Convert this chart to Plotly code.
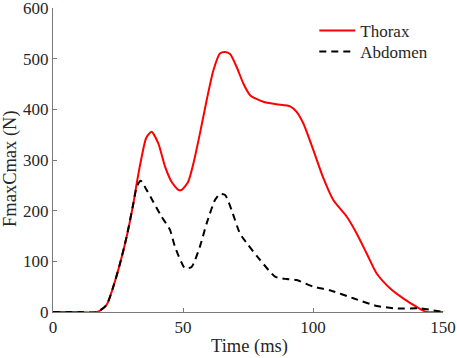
import plotly.graph_objects as go

thorax_t = [0, 10, 17, 20.6, 23.2, 25.8, 28.3, 30.9, 32.2, 34.1, 35.8, 37.9, 40.5, 43.1, 45.6,
            48.2, 49.5, 52, 54, 56.5, 59.1, 61.7, 64.2, 66.2, 68.1, 70.6, 73.2, 75.8, 80.9, 86,
            91.2, 93.7, 96.3, 100.1, 104, 107.8, 113, 116.8, 120.6, 124.5, 129.6, 134.7, 139.9,
            143.7, 150]
thorax_v = [0, 0, 0, 14, 50, 96, 148, 214, 254, 306, 343, 356, 333, 287, 257,
            241, 241, 257, 293, 352, 418, 477, 510, 513, 509, 484, 451, 428, 415, 410,
            406, 395, 372, 320, 264, 221, 188, 155, 116, 76, 47, 27, 10,
            0, 0]

abdomen_t = [0, 10, 17, 20.6, 23.2, 25.8, 28.3, 30.9, 32.2, 33.7, 36, 38.6, 41.8, 45, 46.9,
             50.8, 53.3, 56.5, 59.1, 62.3, 64.2, 66.2, 68.7, 71.9, 75.1, 79.6, 85.4, 89.9,
             93.7, 100.1, 106.5, 115.5, 124.5, 132.2, 141.2, 150]
abdomen_v = [0, 0, 0, 14, 50, 96, 148, 214, 247, 259, 241, 217, 188, 162, 129,
             86, 89, 129, 175, 221, 233, 231, 201, 155, 132, 103, 70, 65,
             63, 50, 43, 27, 12, 7, 7, 0]

x_ticks = [0, 50, 100, 150]
y_ticks = [0, 100, 200, 300, 400, 500, 600]

font_family = "Liberation Serif, Times New Roman, serif"
axis_color = "#7a7a7a"
text_color = "#262626"
FS = 17
TFS = 18.5

fig = go.Figure()
fig.add_trace(go.Scatter(x=thorax_t, y=thorax_v, mode="lines", name="Thorax", legend="legend",
                         line=dict(color="#ff0000", width=2, shape="spline", smoothing=0.6)))
fig.add_trace(go.Scatter(x=abdomen_t, y=abdomen_v, mode="lines", name="Abdomen", legend="legend2",
                         line=dict(color="#000000", width=2, dash="7px,5px", shape="spline", smoothing=0.6)))

leg_common = dict(xanchor="left", yanchor="middle", bgcolor="rgba(0,0,0,0)",
                  font=dict(size=FS, color=text_color, family=font_family), itemwidth=36)

fig.update_layout(
    width=457, height=358,
    margin=dict(l=53, r=14, t=8, b=46, autoexpand=False),
    paper_bgcolor="white", plot_bgcolor="white",
    font=dict(family=font_family, size=FS, color=text_color),
    showlegend=True,
    legend=dict(x=0.67, y=(312 - 31) / 304, **leg_common),
    legend2=dict(x=0.67, y=(312 - 52) / 304, **leg_common),
    xaxis=dict(range=[0, 150], tickvals=x_ticks, ticks="inside", ticklen=4, tickcolor=axis_color,
               showline=True, linecolor=axis_color, linewidth=1, showgrid=False, zeroline=False,
               automargin=False, tickfont=dict(size=FS), ticklabeloverflow="allow"),
    yaxis=dict(range=[0, 600], tickvals=y_ticks, ticks="inside", ticklen=4, tickcolor=axis_color,
               showline=True, linecolor=axis_color, linewidth=1, showgrid=False, zeroline=False,
               automargin=False, tickfont=dict(size=FS), ticklabeloverflow="allow"),
    annotations=[
        dict(text="Time (ms)", xref="paper", yref="paper", x=(249 - 53) / 390, y=(312 - 346) / 304,
             xanchor="center", yanchor="middle", showarrow=False, font=dict(size=TFS)),
        dict(text="FmaxCmax (N)", xref="paper", yref="paper", x=(10 - 53) / 390, y=(312 - 169) / 304,
             xanchor="center", yanchor="middle", textangle=-90, showarrow=False, font=dict(size=TFS)),
    ],
)

fig.write_html("out.html", config={"displayModeBar": False},
               post_script=["document.body.style.margin='0';document.body.style.overflow='hidden';"])
